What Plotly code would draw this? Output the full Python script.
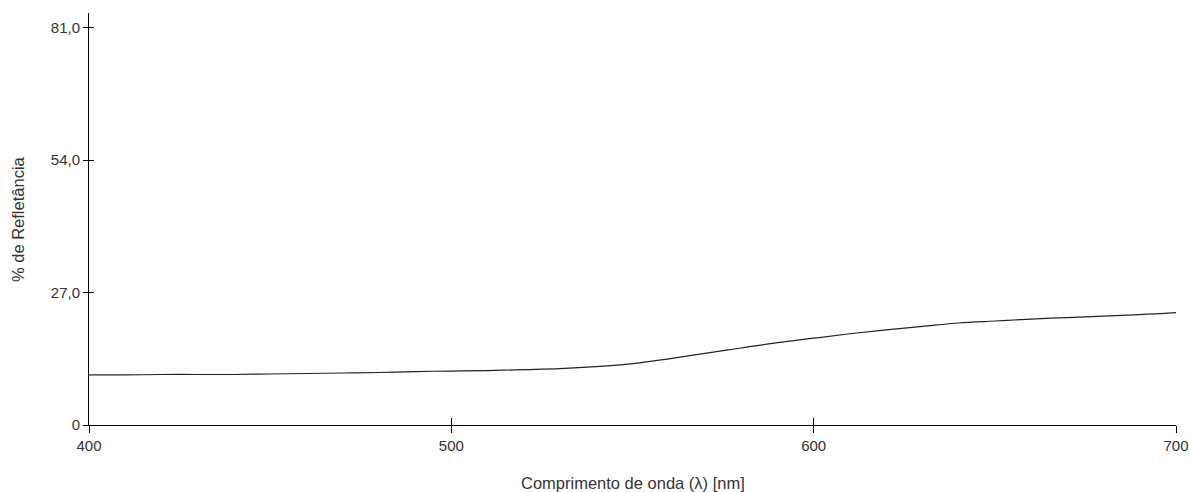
import plotly.graph_objects as go

wavelength = [400, 410, 420, 430, 440, 450, 460, 470, 480, 490, 500, 510, 520, 530, 540,
              550, 560, 570, 580, 590, 600, 610, 620, 630, 640, 650, 660, 670, 680, 690, 700]
reflectance = [10.2, 10.2, 10.3, 10.3, 10.3, 10.4, 10.5, 10.6, 10.7, 10.9, 11.0, 11.1, 11.3, 11.5, 11.9,
               12.5, 13.5, 14.6, 15.7, 16.8, 17.7, 18.6, 19.4, 20.1, 20.8, 21.2, 21.6, 21.9, 22.2, 22.5, 22.9]

x_ticks = [400, 500, 600, 700]
x_ticktext = ["400", "500", "600", "700"]
y_ticks = [0, 27, 54, 81]
y_ticktext = ["0", "27,0", "54,0", "81,0"]

font = dict(family="Liberation Sans, Arial, sans-serif", size=15, color="#333333")
title_font = dict(family="Liberation Sans, Arial, sans-serif", size=16.5, color="#333333")

fig = go.Figure()
fig.add_trace(go.Scatter(x=wavelength, y=reflectance, mode="lines",
                         line=dict(color="#222222", width=1.2, shape="spline"),
                         showlegend=False, hoverinfo="x+y"))
# invisible trace on overlay axes for crossing ticks
fig.add_trace(go.Scatter(x=wavelength, y=reflectance, mode="lines", xaxis="x2", yaxis="y2",
                         line=dict(width=0), showlegend=False, hoverinfo="skip"))

fig.update_layout(
    width=1189, height=492,
    margin=dict(l=89, r=13, t=13, b=67),
    paper_bgcolor="white", plot_bgcolor="white",
    font=font,
    xaxis=dict(range=[400, 700], tickvals=x_ticks, ticktext=x_ticktext,
               ticks="outside", ticklen=7, tickcolor="black", tickwidth=1, tickfont=font,
               showline=True, linecolor="black", linewidth=1,
               showgrid=False, zeroline=False, automargin=False),
    yaxis=dict(range=[0, 84], tickvals=y_ticks, ticktext=y_ticktext,
               ticks="outside", ticklen=5, tickcolor="black", tickwidth=1, tickfont=font,
               showline=True, linecolor="black", linewidth=1,
               showgrid=False, zeroline=False, automargin=False),
    xaxis2=dict(overlaying="x", matches="x", range=[400, 700], tickvals=x_ticks,
                ticks="inside", ticklen=7, tickcolor="black", showticklabels=False,
                showgrid=False, zeroline=False, showline=False, side="bottom", automargin=False),
    yaxis2=dict(overlaying="y", matches="y", range=[0, 84], tickvals=y_ticks,
                ticks="inside", ticklen=5, tickcolor="black", showticklabels=False,
                showgrid=False, zeroline=False, showline=False, side="left", automargin=False),
    annotations=[
        dict(text="Comprimento de onda (λ) [nm]", xref="paper", yref="paper",
             x=0.5, y=(425 - 483) / 412, xanchor="center", yanchor="middle",
             showarrow=False, font=title_font),
        dict(text="% de Refletância", xref="paper", yref="paper",
             x=(18 - 89) / 1087, y=0.5, xanchor="center", yanchor="middle",
             textangle=-90, showarrow=False, font=title_font),
    ],
)

fig.write_html("out.html")
